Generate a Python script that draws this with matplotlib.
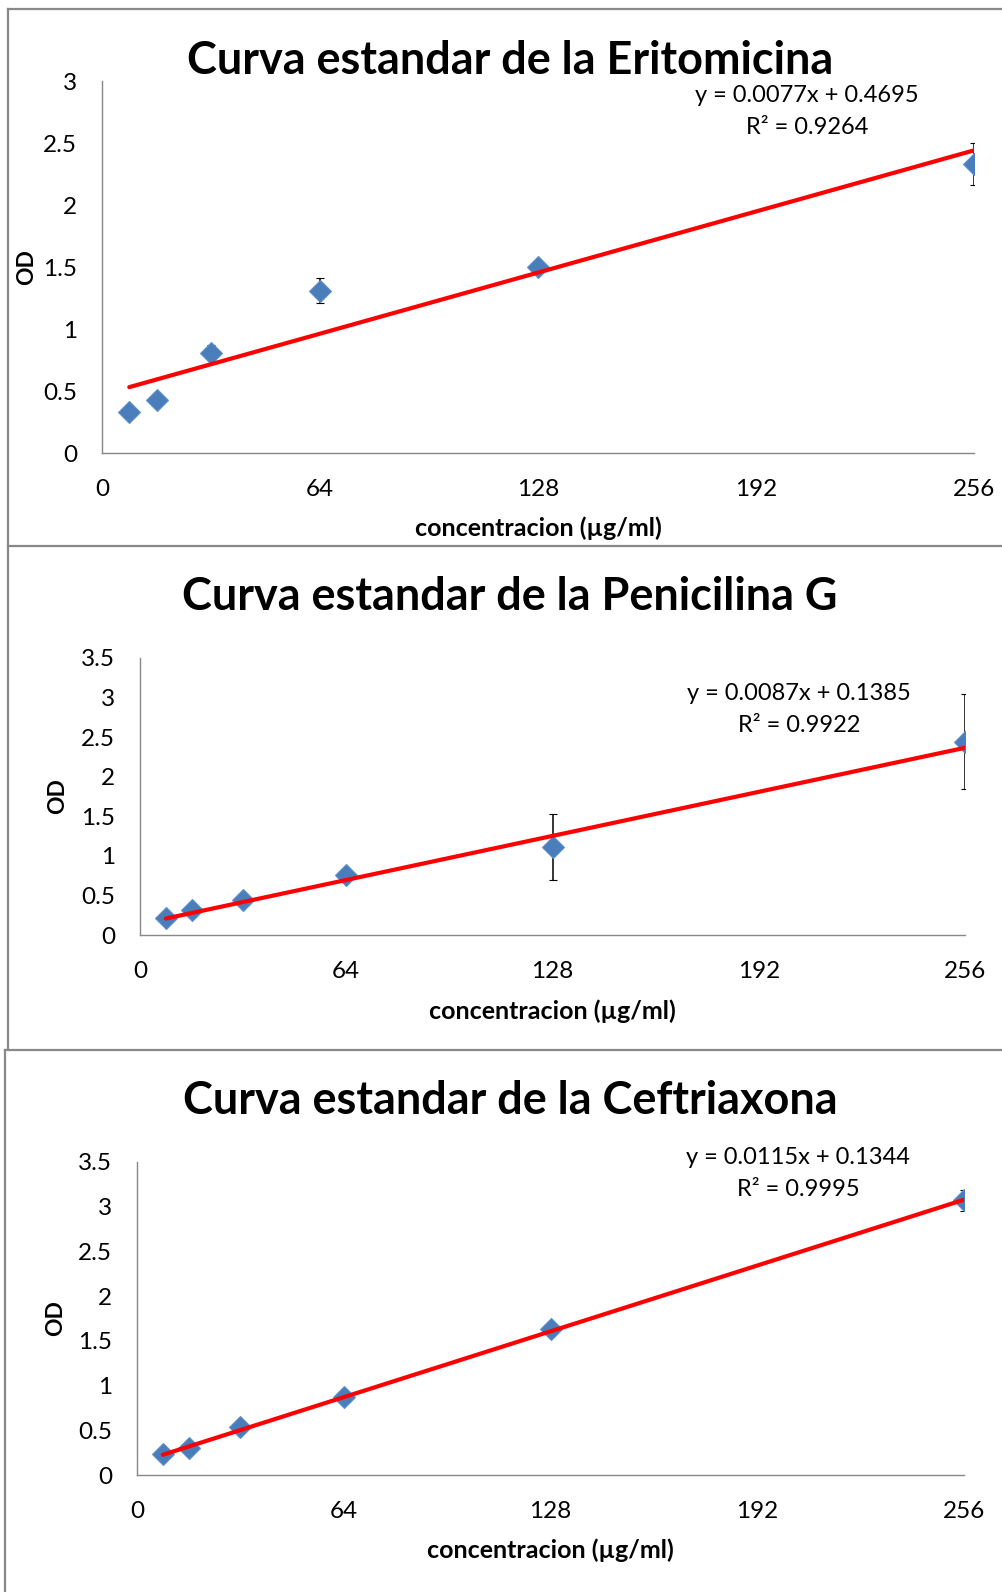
import numpy as np
import matplotlib
matplotlib.use("Agg")
import matplotlib.pyplot as plt
from matplotlib.lines import Line2D

plt.rcParams['font.family'] = ['Lato', 'DejaVu Sans']

W, H = 1002, 1592

# concentrations (ug/ml)
conc = [8, 16, 32, 64, 128, 256]

# Eritomicina
ery_od = [0.33, 0.43, 0.81, 1.31, 1.50, 2.33]
ery_err = [0.03, 0.02, 0.06, 0.10, 0.02, 0.17]
ery_fit = (0.0077, 0.4695, 0.9264)

# Penicilina G
pen_od = [0.22, 0.31, 0.44, 0.76, 1.11, 2.44]
pen_err = [0.04, 0.04, 0.05, 0.08, 0.42, 0.60]
pen_fit = (0.0087, 0.1385, 0.9922)

# Ceftriaxona
cef_od = [0.24, 0.30, 0.54, 0.87, 1.63, 3.07]
cef_err = [0.02, 0.02, 0.03, 0.03, 0.06, 0.12]
cef_fit = (0.0115, 0.1344, 0.9995)

titles = ["Curva estandar de la Eritomicina",
          "Curva estandar de la Penicilina G",
          "Curva estandar de la Ceftriaxona"]
xticks = [0, 64, 128, 192, 256]

GRAY = '#888888'
BLUE = '#4A7EBB'


def fx(px):
    return px / W


def fy(py):
    return 1 - py / H


def panel(box, od, err, fit, title, ymax, title_y, eq_xy, od_x, xlab_y):
    left, top, right, bottom = box
    ax = fig.add_axes([fx(left), fy(bottom), fx(right - left), (bottom - top) / H])
    ax.errorbar(conc, od, yerr=err, fmt='D', ms=11, mfc=BLUE, mec='#5D8FCB',
                mew=0.8, ecolor='black', elinewidth=1.1, capsize=3, capthick=1.1,
                zorder=2)
    m, b, r2 = fit
    xs = np.array([conc[0], conc[-1]])
    ax.plot(xs, m * xs + b, color='#FF0000', lw=3, solid_capstyle='round', zorder=3)
    ax.set_xlim(0, 256)
    ax.set_ylim(0, ymax)
    ax.set_xticks(xticks)
    yt = np.arange(0, ymax + 0.01, 0.5)
    ax.set_yticks(yt)
    ax.set_yticklabels(['%g' % v for v in yt])
    ax.tick_params(length=0, labelsize=17.5)
    ax.tick_params(axis='y', pad=18)
    ax.tick_params(axis='x', pad=19)
    for s in ['top', 'right']:
        ax.spines[s].set_visible(False)
    for s in ['left', 'bottom']:
        ax.spines[s].set_color(GRAY)
        ax.spines[s].set_linewidth(1.0)
    ax.patch.set_alpha(0)

    fig.text(fx(510), fy(title_y), title, fontsize=32.4, fontweight='bold',
             ha='center', va='center')
    fig.text(fx(eq_xy[0]), fy(eq_xy[1]), "y = %.4fx + %.4f" % (m, b),
             fontsize=17, ha='center', va='center')
    fig.text(fx(eq_xy[0]), fy(eq_xy[1] + 32), "R\u00b2 = %.4f" % r2,
             fontsize=17, ha='center', va='center')
    fig.text(fx(od_x), fy((top + bottom) / 2), "OD", fontsize=16.5, fontweight='bold',
             rotation=90, ha='center', va='center')
    fig.text(fx((left + right) / 2), fy(xlab_y), "concentracion (\u00b5g/ml)",
             fontsize=18, fontweight='bold', ha='center', va='center')
    return ax


fig = plt.figure(figsize=(W / 100, H / 100), dpi=100)

panel((102, 81, 974, 453), ery_od, ery_err, ery_fit, titles[0], 3.0, 61, (807, 95), 27, 528)
panel((140, 658, 965, 935), pen_od, pen_err, pen_fit, titles[1], 3.5, 597, (799, 693), 58, 1011)
panel((137, 1162, 964, 1475), cef_od, cef_err, cef_fit, titles[2], 3.5, 1101, (798, 1157), 56, 1550)


# chart borders
def hline(y, x0, x1):
    fig.add_artist(Line2D([fx(x0), fx(x1)], [fy(y), fy(y)], color=GRAY, lw=1.6))


def vline(x, y0, y1):
    fig.add_artist(Line2D([fx(x), fx(x)], [fy(y0), fy(y1)], color=GRAY, lw=1.6))


hline(9, 7.5, W)
vline(7.5, 9, 1049)
hline(545.7, 7.5, W)
hline(1049.5, 4.5, W)
vline(4.5, 1049.5, H)

plt.savefig('out.png', dpi=100)
